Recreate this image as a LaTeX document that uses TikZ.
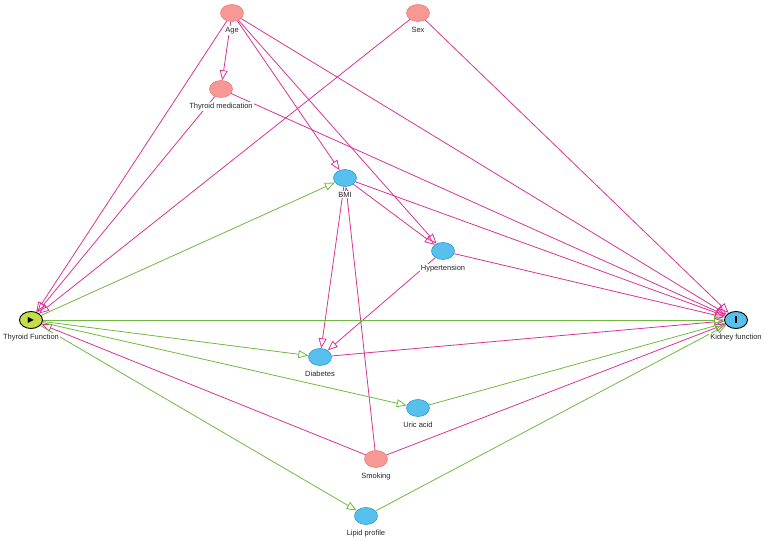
\documentclass[tikz,border=0pt]{standalone}
\usepackage{fontspec}
\setmainfont{Liberation Sans}
\newfontfamily\symfont{DejaVu Sans}
\usetikzlibrary{arrows.meta, shapes.geometric, backgrounds}
\definecolor{adjfill}{RGB}{248,152,148}
\definecolor{adjdraw}{RGB}{236,125,122}
\definecolor{varfill}{RGB}{88,192,236}
\definecolor{vardraw}{RGB}{42,156,214}
\definecolor{expfill}{RGB}{198,220,72}
\definecolor{biasline}{RGB}{216,52,152}
\definecolor{causalline}{RGB}{112,184,62}
\begin{document}
\begin{tikzpicture}[x=1pt, y=1pt,
  var/.style={ellipse, minimum width=23pt, minimum height=17pt, inner sep=0pt},
  adj/.style={var, fill=adjfill, draw=adjdraw, line width=0.6pt},
  med/.style={var, fill=varfill, draw=vardraw, line width=0.6pt},
  lbl/.style={font=\fontsize{7.5}{8}\selectfont, text=black!85, fill=white, inner sep=1pt, yshift=-4pt},
  bias/.style={draw=biasline, line width=0.8pt, -{Triangle[open, length=10pt, width=8pt]}},
  causal/.style={draw=causalline, line width=0.8pt, -{Triangle[open, length=10pt, width=8pt]}}]
\useasboundingbox (0,0) rectangle (766,541);
\node [adj, label={[lbl]below:Age}] (age) at (232,528) {};
\node [adj, label={[lbl]below:Sex}] (sex) at (418,528) {};
\node [adj, label={[lbl]below:Thyroid medication}] (thymed) at (221,452) {};
\node [med, label={[lbl]below:BMI}] (bmi) at (345,363) {};
\node [med, label={[lbl]below:Hypertension}] (htn) at (443,290) {};
\node [var, fill=expfill, draw=black, line width=0.9pt, label={[lbl]below:Thyroid Function}] (thyroid) at (31,221) {\symfont\fontsize{8}{8}\selectfont ▶};
\node [var, fill=varfill, draw=black, line width=0.9pt, label={[lbl]below:Kidney function}] (kidney) at (736,221) {\rule{1.5pt}{7pt}};
\node [med, label={[lbl]below:Diabetes}] (diab) at (320,184) {};
\node [med, label={[lbl]below:Uric acid}] (uric) at (418,133) {};
\node [adj, label={[lbl]below:Smoking}] (smoke) at (376,82) {};
\node [med, label={[lbl]below:Lipid profile}] (lipid) at (366,25) {};

\begin{scope}[on background layer]
\draw [bias] (age) -- (thymed);
\draw [bias] (age) -- (thyroid);
\draw [bias] (age) -- (kidney);
\draw [bias] (age) -- (bmi);
\draw [bias] (age) -- (htn);
\draw [bias] (sex) -- (thyroid);
\draw [bias] (sex) -- (kidney);
\draw [bias] (thymed) -- (thyroid);
\draw [bias] (thymed) -- (kidney);
\draw [bias] (bmi) -- (diab);
\draw [bias] (bmi) -- (htn);
\draw [bias] (bmi) -- (kidney);
\draw [bias] (htn) -- (diab);
\draw [bias] (htn) -- (kidney);
\draw [bias] (diab) -- (kidney);
\draw [bias] (smoke) -- (thyroid);
\draw [bias] (smoke) -- (kidney);
\draw [bias] (smoke) -- (bmi);

\draw [causal] (thyroid) -- (bmi);
\draw [causal] (thyroid) -- (kidney);
\draw [causal] (thyroid) -- (diab);
\draw [causal] (thyroid) -- (uric);
\draw [causal] (thyroid) -- (lipid);
\draw [causal] (uric) -- (kidney);
\draw [causal] (lipid) -- (kidney);
\end{scope}
\end{tikzpicture}
\end{document}
